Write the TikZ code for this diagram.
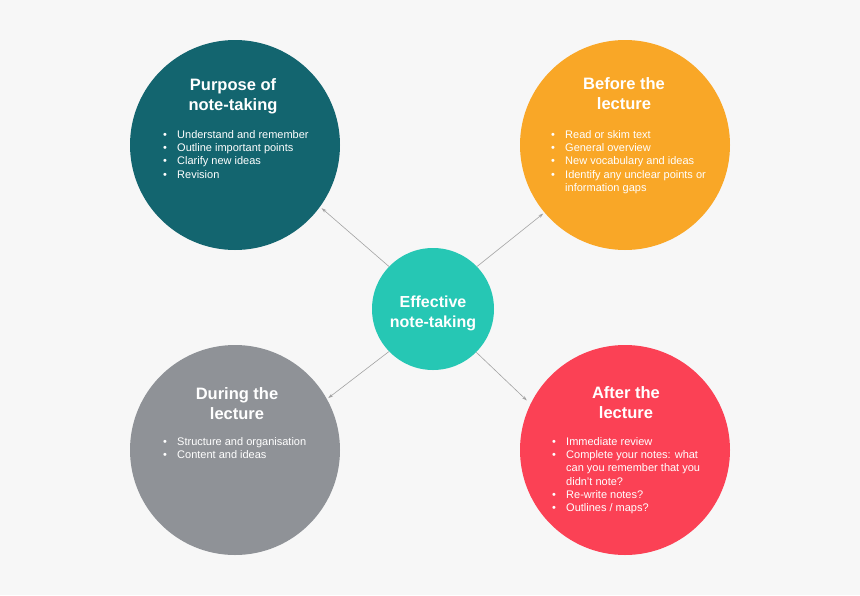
\documentclass[tikz,border=0pt]{standalone}
\usepackage{fontspec}
\setmainfont{Liberation Sans}
\usetikzlibrary{arrows.meta}

\definecolor{bggray}{HTML}{F7F7F7}
\definecolor{purposecol}{HTML}{13656F}
\definecolor{beforecol}{HTML}{F9A727}
\definecolor{duringcol}{HTML}{8F9297}
\definecolor{aftercol}{HTML}{FB4155}
\definecolor{centrecol}{HTML}{26C7B4}
\definecolor{linkgray}{HTML}{A3A3A3}

\newcommand{\itm}{\makebox[14pt][l]{\textbullet}}
\newcommand{\cont}{\hspace*{14pt}}

\begin{document}
\begin{tikzpicture}[x=1pt,y=-1pt,
  topic/.style={circle,minimum size=210pt,inner sep=0pt},
  heading/.style={anchor=north,align=center,text=white,inner sep=0pt,
    font=\fontsize{16.5}{20}\selectfont\bfseries},
  points/.style={anchor=north west,align=left,text=white,inner sep=0pt,
    font=\fontsize{11}{13.3}\selectfont},
  link/.style={draw=linkgray,line width=0.6pt,-{Stealth[length=5pt,width=3.2pt]}}]
  \fill[bggray] (0,0) rectangle (860,595);

  % the four topics and the centre
  \node[topic,fill=purposecol] (pur) at (235,145) {};
  \node[topic,fill=beforecol] (bef) at (625,145) {};
  \node[topic,fill=duringcol] (dur) at (235,450) {};
  \node[topic,fill=aftercol] (aft) at (625,450) {};
  \node[circle,minimum size=122pt,inner sep=0pt,fill=centrecol] (ctr) at (433,309) {};

  % headings
  \node[heading] (purtitle) at (233,76) {\strut Purpose of\\note-taking};
  \node[heading] (beftitle) at (624,75) {\strut Before the\\lecture};
  \node[heading] (durtitle) at (237,385) {\strut During the\\lecture};
  \node[heading] (afttitle) at (626,384) {\strut After the\\lecture};
  \node[heading,font=\fontsize{16}{20}\selectfont\bfseries] (ctrtitle) at (433,293) {\strut Effective\\note-taking};

  % bullet points
  \node[points] (purlist) at (163,128.7) {\strut\itm Understand and remember\\
    \itm Outline important points\\ \itm Clarify new ideas\\ \itm Revision};
  \node[points] (beflist) at (551,128.7) {\strut\itm Read or skim text\\
    \itm General overview\\ \itm New vocabulary and ideas\\
    \itm Identify any unclear points or\\ \cont information gaps};
  \node[points] (durlist) at (163,435.7) {\strut\itm Structure and organisation\\
    \itm Content and ideas};
  \node[points] (aftlist) at (552,435.7) {\strut\itm Immediate review\\
    \itm Complete your notes: what\\ \cont can you remember that you\\
    \cont didn't note?\\ \itm Re-write notes?\\ \itm Outlines / maps?};

  % connectors
  \draw[link,shorten >=2pt] (ctr.136) -- (pur.-36);
  \draw[link,shorten >=1.5pt] (ctr.44) -- (bef.220);
  \draw[link,shorten >=1.5pt] (ctr.224) -- (dur.29);
  \draw[link,shorten >=5pt] (ctr.-45) -- (aft.154);
\end{tikzpicture}
\end{document}
